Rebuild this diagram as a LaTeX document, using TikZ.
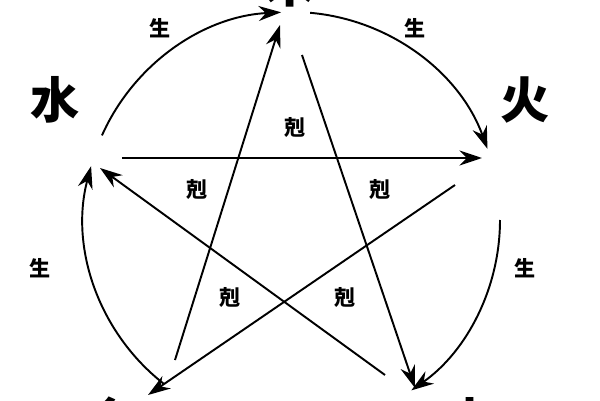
\documentclass[tikz,border=0pt]{standalone}
\usepackage{fontspec}
\newfontfamily\cjk{Noto Sans CJK SC}
\usetikzlibrary{arrows.meta,calc}
\begin{document}
\begin{tikzpicture}[x=0.02cm,y=0.02cm,line width=1.1pt,
  tip/.style={-{Stealth[length=4.5mm,width=3mm]}},
  elem/.style={font=\cjk\fontsize{28}{28}\selectfont\bfseries},
  lab/.style={font=\cjk\fontsize{12}{12}\selectfont\bfseries}]
\useasboundingbox (0,0) rectangle (600,400);
\clip (0,0) rectangle (600,400);

% Define coordinates (y measured from the bottom)
\coordinate (cen) at (292,180);
\coordinate (shui) at (122,242);
\coordinate (huo) at (482,242);

% Elements
\node[elem] (muL) at (290,416) {木};
\node[elem] (shuiL) at (55,300) {水};
\node[elem] (huoL) at (525,300) {火};
\node[elem] (jinL) at (110,-20) {金};
\node[elem] (tuL) at (470,-20) {土};

% Generating cycle
\draw[tip] ($(cen)+(156:208)$) arc[start angle=156,end angle=93,radius=208];
\draw[tip] ($(cen)+(85:208)$) arc[start angle=85,end angle=20,radius=208];
\draw[tip] ($(cen)+(0:208)$) arc[start angle=0,end angle=-55,radius=208];
\draw[tip] ($(cen)+(-70:208)$) arc[start angle=-70,end angle=-110,radius=208];
\draw[tip] ($(cen)+(-128:208)$) arc[start angle=-128,end angle=-195,radius=208];

% Overcoming star
\draw[tip] (shui) -- (huo);
\draw[tip] (302,345) -- (415,12);
\draw[tip] (175,40) -- (280,375);
\draw[tip] (455,215) -- (148,5);
\draw[tip] (385,25) -- (100,232);

% Labels
\node[lab] at (160,372) {生};
\node[lab] at (415,372) {生};
\node[lab] at (40,132) {生};
\node[lab] at (525,132) {生};
\node[lab] at (295,272) {剋};
\node[lab] at (197,210) {剋};
\node[lab] at (380,210) {剋};
\node[lab] at (230,102) {剋};
\node[lab] at (345,102) {剋};
\end{tikzpicture}
\end{document}
